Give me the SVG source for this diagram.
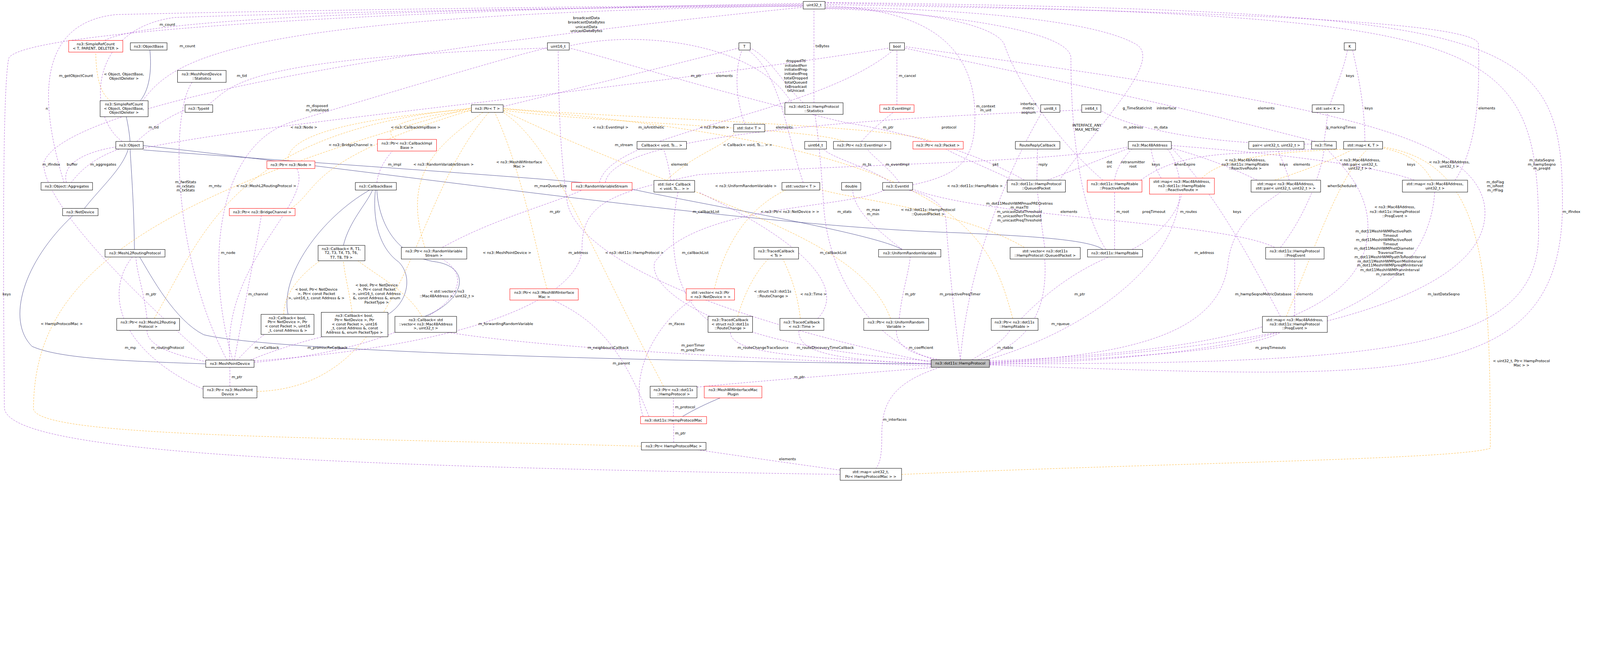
<svg xmlns="http://www.w3.org/2000/svg" width="5444" height="1656" viewBox="0 0 5444 1656">
<style>
text{font-family:"DejaVu Sans","Liberation Sans",sans-serif;font-size:12.5px;fill:#000;text-anchor:middle}
.n rect{fill:#fff;stroke:#000;stroke-width:1.3}
.r rect{fill:#fff;stroke:#f00;stroke-width:1.3}
.g rect{fill:#bfbfbf;stroke:#000;stroke-width:1.3}
path{fill:none}
.e{stroke:#9a32cd;stroke-dasharray:6,4;marker-end:url(#mp)}
.t{stroke:#ffa500;stroke-dasharray:6,4;marker-end:url(#mo)}
.i{stroke:#191970;marker-end:url(#mn)}
</style>
<defs>
<marker id="mp" viewBox="0 0 10 10" refX="9" refY="5" markerWidth="14" markerHeight="14" markerUnits="userSpaceOnUse" orient="auto"><path d="M0,0 L10,5 L0,10 z" fill="#9a32cd"/></marker>
<marker id="mo" viewBox="0 0 10 10" refX="9" refY="5" markerWidth="14" markerHeight="14" markerUnits="userSpaceOnUse" orient="auto"><path d="M0,0 L10,5 L0,10 z" fill="#ffa500"/></marker>
<marker id="mn" viewBox="0 0 10 10" refX="9" refY="5" markerWidth="14" markerHeight="14" markerUnits="userSpaceOnUse" orient="auto"><path d="M0,0 L10,5 L0,10 z" fill="#191970"/></marker>
</defs>
<rect width="5444" height="1656" fill="#fff"/>
<g id="diagram" transform="scale(0.745)">
<g id="connectors">
<path class="i" d="M482,346 C520,300 520,220 515,172"/>
<path class="i" d="M447,486 C444,450 438,420 434,401"/>
<path class="i" d="M290,716 C350,640 420,580 441,512"/>
<path class="i" d="M462,857 C460,700 452,600 447,512"/>
<path class="i" d="M707,1250 C400,1240 200,1230 110,1190 C20,1100 80,900 250,741"/>
<path class="i" d="M2000,627 C1700,600 800,540 492,515"/>
<path class="i" d="M3790,857 C3740,820 3500,810 3300,800 C2600,780 1400,600 492,500"/>
<path class="i" d="M3100,857 C3000,800 2400,700 2172,650"/>
<path class="i" d="M3200,1250 C2000,1240 900,1200 700,1150 C600,1100 520,950 480,883"/>
<path class="i" d="M1180,843 C1200,760 1260,700 1280,653"/>
<path class="i" d="M1333,1080 C1400,1040 1420,950 1370,900 C1300,850 1280,750 1290,653"/>
<path class="i" d="M1460,1087 C1600,1030 1620,920 1500,900 C1350,880 1300,750 1295,653"/>
<path class="i" d="M990,1080 C960,950 1100,750 1270,653"/>
<path class="i" d="M2345,1431 C2380,1410 2420,1390 2475,1367"/>
<path class="t" d="M380,346 C340,320 330,250 329,179"/>
<path class="t" d="M990,553 C980,450 1300,400 1620,375"/>
<path class="t" d="M1000,716 C1100,650 1050,550 1620,378"/>
<path class="t" d="M1360,479 C1300,440 1400,400 1620,380"/>
<path class="t" d="M530,1094 C700,800 800,450 1620,372"/>
<path class="t" d="M883,1345 C1400,1330 1400,700 1680,386"/>
<path class="t" d="M1460,850 C1380,600 1500,500 1660,386"/>
<path class="t" d="M1880,992 C1850,900 1800,600 1700,386"/>
<path class="t" d="M2280,1327 C2000,800 1900,500 1729,386"/>
<path class="t" d="M2900,486 C2800,440 2000,420 1729,378"/>
<path class="t" d="M3200,486 C3100,430 2000,400 1729,372"/>
<path class="t" d="M3060,1094 C2950,800 2400,700 1729,380"/>
<path class="t" d="M3480,1094 C3400,800 3300,500 1729,374"/>
<path class="t" d="M2204,1533 C1000,1500 100,1500 115,1400 C120,1000 400,700 1620,370"/>
<path class="t" d="M1210,1073 C1200,1000 1185,950 1180,896"/>
<path class="t" d="M1450,1087 C1400,1000 1300,950 1230,896"/>
<path class="t" d="M975,1080 C975,1000 1050,930 1100,896"/>
<path class="t" d="M2290,620 C2380,530 2500,500 2525,453"/>
<path class="t" d="M2455,992 C2500,800 2600,700 2700,653"/>
<path class="t" d="M3520,850 C3300,720 2900,680 2817,650"/>
<path class="t" d="M2535,1087 C2560,1000 2600,930 2640,890"/>
<path class="t" d="M2750,1094 C2740,1000 2710,930 2690,890"/>
<path class="t" d="M4130,612 C4200,540 4400,520 4640,512"/>
<path class="t" d="M4380,619 C4500,580 4600,540 4650,512"/>
<path class="t" d="M4920,619 C4880,540 4800,520 4751,508"/>
<path class="t" d="M4420,1087 C4500,900 4600,600 4700,512"/>
<path class="t" d="M3098,1630 C4000,1590 5000,1580 5121,1540 C5121,900 5100,560 4751,505"/>
<path class="e" d="M360,139 C500,60 1500,30 2760,18"/>
<path class="e" d="M490,346 C600,200 800,50 2760,20"/>
<path class="e" d="M420,486 C300,400 300,100 600,60 C1500,30 2500,22 2760,22"/>
<path class="e" d="M220,627 C150,400 100,80 400,50 C1500,25 2500,20 2760,15"/>
<path class="e" d="M720,1237 C450,1000 150,700 150,560 C200,400 1000,200 2760,25"/>
<path class="e" d="M2887,1630 C1000,1600 20,1550 15,1400 C10,800 10,300 30,200 C80,100 1500,30 2760,12"/>
<path class="e" d="M228,627 C210,560 300,520 398,505"/>
<path class="e" d="M410,512 C330,540 280,580 245,627"/>
<path class="e" d="M470,486 C520,440 580,400 636,378"/>
<path class="e" d="M715,360 C800,300 800,200 1881,165"/>
<path class="e" d="M780,1237 C600,900 580,400 660,283"/>
<path class="e" d="M800,1237 C700,900 750,500 1000,420 C1400,300 1800,180 1881,165"/>
<path class="e" d="M790,1237 C760,900 1080,700 1020,579"/>
<path class="e" d="M805,1237 C850,1000 880,850 898,741"/>
<path class="e" d="M720,1245 C600,1220 505,1190 505,1135"/>
<path class="e" d="M815,1237 C850,1200 890,1160 910,1149"/>
<path class="e" d="M860,1237 C950,1200 1050,1170 1110,1157"/>
<path class="e" d="M505,1094 C495,1000 470,940 467,883"/>
<path class="e" d="M455,883 C360,1000 400,1200 698,1337"/>
<path class="e" d="M790,1327 L790,1262"/>
<path class="e" d="M480,512 C900,420 2000,330 3057,165"/>
<path class="e" d="M1295,627 C1300,580 1330,540 1348,519"/>
<path class="e" d="M1729,366 C2000,300 2400,200 2539,165"/>
<path class="e" d="M2720,353 C2600,150 2200,100 1956,158"/>
<path class="e" d="M2797,353 L2797,31"/>
<path class="e" d="M2760,353 C2700,300 2650,200 2578,165"/>
<path class="e" d="M3200,1245 C2500,1100 2000,900 1950,700 C1920,500 1920,300 1918,172"/>
<path class="e" d="M873,1245 C1400,1200 1700,1000 1520,890"/>
<path class="e" d="M1520,850 C1700,750 1900,700 2000,653"/>
<path class="e" d="M2080,627 C2100,500 2600,420 3717,378"/>
<path class="e" d="M2060,627 C2100,450 2800,400 3070,172"/>
<path class="e" d="M2560,427 C2520,320 2530,220 2550,172"/>
<path class="e" d="M2760,627 C2700,450 2680,250 2570,172"/>
<path class="e" d="M3082,360 L3082,172"/>
<path class="e" d="M2960,486 C3000,440 3040,410 3070,386"/>
<path class="e" d="M3060,627 C3000,580 2850,540 2830,512"/>
<path class="e" d="M3090,627 C3060,580 3000,540 2980,512"/>
<path class="e" d="M3136,635 C3300,600 3350,550 3350,400 C3350,100 3100,30 2835,20"/>
<path class="e" d="M2305,620 C2300,580 2290,540 2280,512"/>
<path class="e" d="M2433,1100 C2300,1000 2300,800 2330,660"/>
<path class="e" d="M2810,1094 C2900,1000 2800,850 2400,660"/>
<path class="e" d="M3200,1250 C2800,1230 2510,1220 2510,1142"/>
<path class="e" d="M3200,1252 C2900,1235 2740,1220 2745,1135"/>
<path class="e" d="M3230,1236 C3150,1220 3080,1200 3080,1135"/>
<path class="e" d="M3090,1094 C3100,1000 3120,950 3128,883"/>
<path class="e" d="M3100,857 C3000,780 2935,720 2930,653"/>
<path class="e" d="M3210,1236 C2950,1150 2840,900 2830,700 C2820,550 2810,450 2800,393"/>
<path class="e" d="M3300,1236 C3280,1100 3260,900 3250,750 C3240,680 3150,660 3120,653"/>
<path class="e" d="M3210,1240 C2500,1200 2220,1000 2250,900 C2400,700 2900,720 3040,653"/>
<path class="e" d="M2210,1431 C2150,1250 2300,1070 2380,1031"/>
<path class="e" d="M2395,1330 C2700,1300 3000,1280 3210,1262"/>
<path class="e" d="M2314,1431 L2314,1367"/>
<path class="e" d="M2315,1520 L2315,1456"/>
<path class="e" d="M2887,1615 C2700,1590 2500,1560 2400,1546"/>
<path class="e" d="M3230,1262 C3050,1320 3030,1400 3030,1500 C3030,1560 3025,1590 3010,1609"/>
<path class="e" d="M2230,1431 C2140,1200 2050,1100 1900,1031"/>
<path class="e" d="M3200,1258 C2600,1230 1900,1200 1540,1142"/>
<path class="e" d="M873,1240 C1700,1180 2000,1000 2000,850 C2000,700 2100,660 2400,600 C3000,560 3600,560 3877,505"/>
<path class="e" d="M3480,619 C3400,580 3300,540 3250,512"/>
<path class="e" d="M3563,619 L3565,512"/>
<path class="e" d="M3600,619 C3700,580 3800,540 3877,510"/>
<path class="e" d="M3640,619 C3800,400 4000,200 3900,150 C3700,40 3000,25 2835,25"/>
<path class="e" d="M3520,619 C3400,550 3200,470 2900,420 C2400,300 2100,200 1956,165"/>
<path class="e" d="M3830,619 C3835,580 3860,540 3890,512"/>
<path class="e" d="M3920,619 C4000,560 4100,530 4300,525 C4400,520 4480,515 4520,512"/>
<path class="e" d="M3790,619 C3650,500 3500,300 3450,150 C3400,60 3000,25 2835,28"/>
<path class="e" d="M3830,857 L3830,660"/>
<path class="e" d="M3890,857 C4000,800 4050,720 4060,667"/>
<path class="e" d="M3800,857 C3700,700 3680,400 3680,200 C3680,80 3000,30 2835,30"/>
<path class="e" d="M3990,612 C3970,580 3960,540 3955,512"/>
<path class="e" d="M4320,619 C4200,560 4100,530 4025,508"/>
<path class="e" d="M4430,619 C4420,580 4400,540 4390,512"/>
<path class="e" d="M4400,1087 C4300,900 4200,700 4030,512"/>
<path class="e" d="M4449,1087 L4449,890"/>
<path class="e" d="M3400,1248 C3900,1230 4300,1200 4400,1142"/>
<path class="e" d="M3400,1244 C4000,1220 4200,1100 4220,900 C4240,750 4350,700 4400,660"/>
<path class="e" d="M3340,1236 C3400,1200 3450,1170 3470,1135"/>
<path class="e" d="M3360,1236 C3550,1180 3600,1050 3590,890"/>
<path class="e" d="M3510,1094 C3600,1000 3700,930 3810,883"/>
<path class="e" d="M3590,850 C3580,780 3570,700 3565,660"/>
<path class="e" d="M3390,1236 C3700,1150 4100,900 4050,600 C4040,560 4030,530 4010,512"/>
<path class="e" d="M4400,850 C4480,750 4540,600 4550,512"/>
<path class="e" d="M4380,850 C4200,760 3400,750 3136,650"/>
<path class="e" d="M3400,1252 C4300,1230 4900,1100 4930,660"/>
<path class="e" d="M5000,619 C5080,500 5085,300 5080,150 C5060,50 3500,30 2835,15"/>
<path class="e" d="M4860,619 C4700,560 4300,520 4025,500"/>
<path class="e" d="M4550,486 C4555,450 4560,410 4563,386"/>
<path class="e" d="M4570,360 C4590,300 4620,230 4630,172"/>
<path class="e" d="M4690,486 C4690,350 4660,230 4648,172"/>
<path class="e" d="M4507,495 C4200,500 3900,450 3783,380"/>
<path class="e" d="M4520,486 C4000,350 3500,250 3108,165"/>
<path class="e" d="M3400,1240 C4200,1210 4680,1100 4700,800 C4710,650 4600,560 4560,512"/>
<path class="e" d="M3300,1236 C3320,1000 3400,700 3580,386"/>
<path class="e" d="M3400,1246 C4500,1200 5150,1000 5100,700 C5050,450 4500,350 3108,160"/>
<path class="e" d="M3400,1250 C4800,1250 5287,1200 5287,800 C5287,100 5100,60 2835,10"/>
<path class="e" d="M3400,1254 C4800,1300 5369,1350 5369,700 C5369,100 5200,40 2835,8"/>
</g>
<g id="labels">
<text x="575" y="89">m_count</text>
<text x="644" y="163">m_count</text>
<text x="261" y="265">m_getObjectCount</text>
<text x="426" y="259">&lt; Object, ObjectBase,</text><text x="426" y="274">ObjectDeleter &gt;</text>
<text x="831" y="265">m_tid</text>
<text x="161" y="377">n</text>
<text x="528" y="442">m_tid</text>
<text x="1044" y="442">&lt; ns3::Node &gt;</text>
<text x="1090" y="368">m_disposed</text><text x="1090" y="383">m_initialized</text>
<text x="176" y="569">m_ifIndex</text>
<text x="248" y="569">buffer</text>
<text x="355" y="569">m_aggregates</text>
<text x="638" y="629">m_fwdStats</text><text x="638" y="644">m_rxStats</text><text x="638" y="658">m_txStats</text>
<text x="739" y="643">m_mtu</text>
<text x="915" y="643">&lt; ns3::MeshL2RoutingProtocol &gt;</text>
<text x="784" y="872">m_node</text>
<text x="23" y="1015">keys</text>
<text x="519" y="1015">m_ptr</text>
<text x="887" y="1015">m_channel</text>
<text x="1087" y="999">&lt; bool, Ptr&lt; NetDevice</text><text x="1087" y="1014">&gt;, Ptr&lt; const Packet</text><text x="1087" y="1028">&gt;, uint16_t, const Address &amp; &gt;</text>
<text x="212" y="1117">&lt; HwmpProtocolMac &gt;</text>
<text x="448" y="1199">m_mp</text>
<text x="576" y="1199">m_routingProtocol</text>
<text x="917" y="1199">m_rxCallback</text>
<text x="1125" y="1199">m_promiscRxCallback</text>
<text x="814" y="1299">m_ptr</text>
<text x="2015" y="66">broadcastData</text><text x="2015" y="81">broadcastDataBytes</text><text x="2015" y="96">unicastData</text><text x="2015" y="110">unicastDataBytes</text>
<text x="1428" y="442">&lt; ns3::CallbackImplBase &gt;</text>
<text x="2098" y="442">&lt; ns3::EventImpl &gt;</text>
<text x="2238" y="442">m_isAntithetic</text>
<text x="1205" y="502">&lt; ns3::BridgeChannel &gt;</text>
<text x="2144" y="502">m_stream</text>
<text x="1356" y="569">m_impl</text>
<text x="1524" y="569">&lt; ns3::RandomVariableStream &gt;</text>
<text x="1784" y="561">&lt; ns3::MeshWifiInterface</text><text x="1784" y="576">Mac &gt;</text>
<text x="1892" y="643">m_maxQueueSize</text>
<text x="1907" y="732">m_ptr</text>
<text x="1742" y="872">&lt; ns3::MeshPointDevice &gt;</text>
<text x="1987" y="872">m_address</text>
<text x="2180" y="872">&lt; ns3::dot11s::HwmpProtocol &gt;</text>
<text x="1294" y="984">&lt; bool, Ptr&lt; NetDevice</text><text x="1294" y="999">&gt;, Ptr&lt; const Packet</text><text x="1294" y="1014">&gt;, uint16_t, const Address</text><text x="1294" y="1028">&amp;, const Address &amp;, enum</text><text x="1294" y="1043">PacketType &gt;</text>
<text x="1536" y="1006">&lt; std::vector&lt; ns3</text><text x="1536" y="1021">::Mac48Address &gt;, uint32_t &gt;</text>
<text x="1738" y="1117">m_forwardingRandomVariable</text>
<text x="2090" y="1199">m_neighboursCallback</text>
<text x="2135" y="1253">m_parent</text>
<text x="2826" y="163">txBytes</text>
<text x="2735" y="214">droppedTtl</text><text x="2735" y="229">initiatedPerr</text><text x="2735" y="243">initiatedPrep</text><text x="2735" y="258">initiatedPreq</text><text x="2735" y="272">totalDropped</text><text x="2735" y="287">totalQueued</text><text x="2735" y="302">txBroadcast</text><text x="2735" y="316">txUnicast</text>
<text x="3118" y="265">m_cancel</text>
<text x="2392" y="265">m_ptr</text>
<text x="2489" y="265">elements</text>
<text x="2455" y="442">&lt; ns3::Packet &gt;</text>
<text x="2695" y="442">elements</text>
<text x="3052" y="442">m_ptr</text>
<text x="3261" y="442">protocol</text>
<text x="2569" y="502">&lt; Callback&lt; void, Ts... &gt; &gt;</text>
<text x="2335" y="569">elements</text>
<text x="2979" y="569">m_ts</text>
<text x="3084" y="569">m_eventImpl</text>
<text x="2563" y="643">&lt; ns3::UniformRandomVariable &gt;</text>
<text x="3350" y="643">&lt; ns3::dot11s::HwmpRtable &gt;</text>
<text x="2426" y="732">m_callbackList</text>
<text x="2714" y="732">&lt; ns3::Ptr&lt; ns3::NetDevice &gt; &gt;</text>
<text x="2902" y="732">m_stats</text>
<text x="3000" y="725">m_max</text><text x="3000" y="739">m_min</text>
<text x="3189" y="725">&lt; ns3::dot11s::HwmpProtocol</text><text x="3189" y="739">::QueuedPacket &gt;</text>
<text x="2389" y="872">m_callbackList</text>
<text x="2863" y="872">m_callbackList</text>
<text x="2655" y="1006">&lt; struct ns3::dot11s</text><text x="2655" y="1021">::RouteChange &gt;</text>
<text x="2795" y="1015">&lt; ns3::Time &gt;</text>
<text x="3128" y="1015">m_ptr</text>
<text x="3299" y="1015">m_proactivePreqTimer</text>
<text x="2325" y="1117">m_ifaces</text>
<text x="2381" y="1191">m_perrTimer</text><text x="2381" y="1207">m_preqTimer</text>
<text x="2622" y="1199">m_routeChangeTraceSource</text>
<text x="2836" y="1199">m_routeDiscoveryTimeCallback</text>
<text x="3165" y="1199">m_coefficient</text>
<text x="2747" y="1299">m_ptr</text>
<text x="2354" y="1403">m_protocol</text>
<text x="3075" y="1446">m_interfaces</text>
<text x="2338" y="1492">m_ptr</text>
<text x="2706" y="1581">elements</text>
<text x="3387" y="369">m_context</text><text x="3387" y="383">m_uid</text>
<text x="3534" y="361">interface</text><text x="3534" y="376">metric</text><text x="3534" y="391">seqnum</text>
<text x="3908" y="376">g_TimeStaticInit</text>
<text x="4008" y="376">inInterface</text>
<text x="4351" y="376">elements</text>
<text x="3735" y="435">INTERFACE_ANY</text><text x="3735" y="450">MAX_METRIC</text>
<text x="3894" y="442">m_address</text>
<text x="3989" y="442">m_data</text>
<text x="3421" y="569">pkt</text>
<text x="3584" y="569">reply</text>
<text x="3812" y="561">dst</text><text x="3812" y="576">src</text>
<text x="3893" y="561">retransmitter</text><text x="3893" y="576">root</text>
<text x="3972" y="569">keys</text>
<text x="4071" y="569">whenExpire</text>
<text x="4279" y="554">&lt; ns3::Mac48Address,</text><text x="4279" y="569">ns3::dot11s::HwmpRtable</text><text x="4279" y="583">::ReactiveRoute &gt;</text>
<text x="4411" y="569">keys</text>
<text x="4473" y="569">elements</text>
<text x="3503" y="703">m_dot11MeshHWMPmaxPREQretries</text><text x="3503" y="717">m_maxTtl</text><text x="3503" y="732">m_unicastDataThreshold</text><text x="3503" y="747">m_unicastPerrThreshold</text><text x="3503" y="761">m_unicastPreqThreshold</text>
<text x="3673" y="732">elements</text>
<text x="3858" y="732">m_root</text>
<text x="3965" y="732">preqTimeout</text>
<text x="4084" y="732">m_routes</text>
<text x="4251" y="732">keys</text>
<text x="4138" y="872">m_address</text>
<text x="3710" y="1015">m_ptr</text>
<text x="4341" y="1015">m_hwmpSeqnoMetricDatabase</text>
<text x="4483" y="1015">elements</text>
<text x="3644" y="1117">m_rqueue</text>
<text x="3454" y="1199">m_rtable</text>
<text x="4366" y="1199">m_preqTimeouts</text>
<text x="4639" y="265">keys</text>
<text x="4703" y="376">keys</text>
<text x="5109" y="376">elements</text>
<text x="4608" y="442">g_markingTimes</text>
<text x="4673" y="554">&lt; ns3::Mac48Address,</text><text x="4673" y="569">std::pair&lt; uint32_t,</text><text x="4673" y="583">uint32_t &gt; &gt;</text>
<text x="4849" y="569">keys</text>
<text x="4980" y="561">&lt; ns3::Mac48Address,</text><text x="4980" y="576">uint32_t &gt;</text>
<text x="5298" y="554">m_dataSeqno</text><text x="5298" y="569">m_hwmpSeqno</text><text x="5298" y="583">m_preqId</text>
<text x="5138" y="629">m_doFlag</text><text x="5138" y="643">m_isRoot</text><text x="5138" y="658">m_rfFlag</text>
<text x="4611" y="643">whenScheduled</text>
<text x="4793" y="716">&lt; ns3::Mac48Address,</text><text x="4793" y="731">ns3::dot11s::HwmpProtocol</text><text x="4793" y="747">::PreqEvent &gt;</text>
<text x="5400" y="732">m_ifIndex</text>
<text x="4754" y="799">m_dot11MeshHWMPactivePath</text><text x="4778" y="814">Timeout</text><text x="4756" y="828">m_dot11MeshHWMPactiveRoot</text><text x="4778" y="843">Timeout</text><text x="4756" y="858">m_dot11MeshHWMPnetDiameter</text><text x="4778" y="872">TraversalTime</text><text x="4777" y="887">m_dot11MeshHWMPpathToRootInterval</text><text x="4776" y="902">m_dot11MeshHWMPperrMinInterval</text><text x="4776" y="916">m_dot11MeshHWMPpreqMinInterval</text><text x="4776" y="931">m_dot11MeshHWMPrannInterval</text><text x="4777" y="946">m_randomStart</text>
<text x="4961" y="1015">m_lastDataSeqno</text>
<text x="5228" y="1244">&lt; uint32_t, Ptr&lt; HwmpProtocol</text><text x="5228" y="1259">Mac &gt; &gt;</text>
</g>
<g id="n_src_t" class="r"><rect x="236" y="139" width="186" height="40"/><text x="329" y="156">ns3::SimpleRefCount</text><text x="329" y="171">&lt; T, PARENT, DELETER &gt;</text></g>
<g id="n_objectbase" class="n"><rect x="448" y="147" width="126" height="25"/><text x="511" y="164">ns3::ObjectBase</text></g>
<g id="n_mpdstats" class="n"><rect x="610" y="242" width="167" height="41"/><text x="693" y="259">ns3::MeshPointDevice</text><text x="693" y="274">::Statistics</text></g>
<g id="n_src_o" class="n"><rect x="344" y="346" width="165" height="55"/><text x="426" y="362">ns3::SimpleRefCount</text><text x="426" y="377">&lt; Object, ObjectBase,</text><text x="426" y="391">ObjectDeleter &gt;</text></g>
<g id="n_typeid" class="n"><rect x="636" y="360" width="95" height="26"/><text x="683" y="377">ns3::TypeId</text></g>
<g id="n_object" class="n"><rect x="398" y="486" width="94" height="26"/><text x="445" y="503">ns3::Object</text></g>
<g id="n_ptrnode" class="r"><rect x="917" y="553" width="165" height="26"/><text x="1000" y="570">ns3::Ptr&lt; ns3::Node &gt;</text></g>
<g id="n_aggregates" class="n"><rect x="141" y="627" width="177" height="26"/><text x="230" y="644">ns3::Object::Aggregates</text></g>
<g id="n_netdevice" class="n"><rect x="215" y="716" width="122" height="25"/><text x="276" y="733">ns3::NetDevice</text></g>
<g id="n_ptrbridge" class="r"><rect x="788" y="716" width="226" height="25"/><text x="901" y="733">ns3::Ptr&lt; ns3::BridgeChannel &gt;</text></g>
<g id="n_meshl2rp" class="n"><rect x="361" y="857" width="206" height="26"/><text x="464" y="874">ns3::MeshL2RoutingProtocol</text></g>
<g id="n_ptrl2rp" class="n"><rect x="401" y="1094" width="216" height="41"/><text x="509" y="1111">ns3::Ptr&lt; ns3::MeshL2Routing</text><text x="509" y="1126">Protocol &gt;</text></g>
<g id="n_cbaddr" class="n"><rect x="897" y="1080" width="182" height="69"/><text x="988" y="1096">ns3::Callback&lt; bool,</text><text x="988" y="1110">Ptr&lt; NetDevice &gt;, Ptr</text><text x="988" y="1125">&lt; const Packet &gt;, uint16</text><text x="988" y="1139">_t, const Address &amp; &gt;</text></g>
<g id="n_mpd" class="n"><rect x="707" y="1237" width="166" height="25"/><text x="790" y="1254">ns3::MeshPointDevice</text></g>
<g id="n_ptrmpd" class="n"><rect x="698" y="1327" width="185" height="40"/><text x="790" y="1344">ns3::Ptr&lt; ns3::MeshPoint</text><text x="790" y="1359">Device &gt;</text></g>
<g id="n_uint16" class="n"><rect x="1881" y="147" width="75" height="25"/><text x="1918" y="164">uint16_t</text></g>
<g id="n_ptrt" class="n"><rect x="1620" y="360" width="109" height="26"/><text x="1675" y="377">ns3::Ptr&lt; T &gt;</text></g>
<g id="n_ptrcib" class="r"><rect x="1297" y="479" width="203" height="40"/><text x="1398" y="496">ns3::Ptr&lt; ns3::CallbackImpl</text><text x="1398" y="511">Base &gt;</text></g>
<g id="n_callbackbase" class="n"><rect x="1221" y="627" width="141" height="26"/><text x="1291" y="644">ns3::CallbackBase</text></g>
<g id="n_rvs" class="r"><rect x="1964" y="627" width="208" height="26"/><text x="2068" y="644">ns3::RandomVariableStream</text></g>
<g id="n_cbvoid" class="n"><rect x="2189" y="486" width="170" height="26"/><text x="2274" y="503">Callback&lt; void, Ts... &gt;</text></g>
<g id="n_cbr" class="n"><rect x="1093" y="843" width="161" height="53"/><text x="1173" y="859">ns3::Callback&lt; R, T1,</text><text x="1173" y="873">T2, T3, T4, T5, T6,</text><text x="1173" y="888">T7, T8, T9 &gt;</text></g>
<g id="n_ptrrvs" class="n"><rect x="1379" y="850" width="225" height="40"/><text x="1491" y="867">ns3::Ptr&lt; ns3::RandomVariable</text><text x="1491" y="882">Stream &gt;</text></g>
<g id="n_cbpt" class="n"><rect x="1104" y="1073" width="229" height="84"/><text x="1218" y="1089">ns3::Callback&lt; bool,</text><text x="1218" y="1103">Ptr&lt; NetDevice &gt;, Ptr</text><text x="1218" y="1118">&lt; const Packet &gt;, uint16</text><text x="1218" y="1132">_t, const Address &amp;, const</text><text x="1218" y="1147">Address &amp;, enum PacketType &gt;</text></g>
<g id="n_cbvec" class="n"><rect x="1357" y="1087" width="212" height="55"/><text x="1463" y="1103">ns3::Callback&lt; std</text><text x="1463" y="1118">::vector&lt; ns3::Mac48Address</text><text x="1463" y="1132">&gt;, uint32_t &gt;</text></g>
<g id="n_ptrmwim" class="r"><rect x="1752" y="992" width="235" height="39"/><text x="1870" y="1009">ns3::Ptr&lt; ns3::MeshWifiInterface</text><text x="1870" y="1024">Mac &gt;</text></g>
<g id="n_uint32" class="n"><rect x="2760" y="5" width="75" height="26"/><text x="2797" y="22">uint32_t</text></g>
<g id="n_t" class="n"><rect x="2539" y="147" width="39" height="25"/><text x="2558" y="164">T</text></g>
<g id="n_bool" class="n"><rect x="3057" y="147" width="51" height="25"/><text x="3082" y="164">bool</text></g>
<g id="n_hpstats" class="n"><rect x="2697" y="353" width="200" height="40"/><text x="2797" y="370">ns3::dot11s::HwmpProtocol</text><text x="2797" y="385">::Statistics</text></g>
<g id="n_eventimpl" class="r"><rect x="3023" y="360" width="118" height="26"/><text x="3082" y="377">ns3::EventImpl</text></g>
<g id="n_listt" class="n"><rect x="2521" y="427" width="107" height="26"/><text x="2574" y="444">std::list&lt; T &gt;</text></g>
<g id="n_uint64" class="n"><rect x="2765" y="486" width="75" height="26"/><text x="2802" y="503">uint64_t</text></g>
<g id="n_ptrei" class="n"><rect x="2864" y="486" width="197" height="26"/><text x="2962" y="503">ns3::Ptr&lt; ns3::EventImpl &gt;</text></g>
<g id="n_ptrpacket" class="r"><rect x="3137" y="486" width="173" height="26"/><text x="3223" y="503">ns3::Ptr&lt; ns3::Packet &gt;</text></g>
<g id="n_listcb" class="n"><rect x="2247" y="620" width="140" height="40"/><text x="2317" y="637">std::list&lt; Callback</text><text x="2317" y="652">&lt; void, Ts... &gt; &gt;</text></g>
<g id="n_vectort" class="n"><rect x="2687" y="627" width="130" height="26"/><text x="2752" y="644">std::vector&lt; T &gt;</text></g>
<g id="n_double" class="n"><rect x="2892" y="627" width="66" height="26"/><text x="2925" y="644">double</text></g>
<g id="n_eventid" class="n"><rect x="3033" y="627" width="103" height="26"/><text x="3084" y="644">ns3::EventId</text></g>
<g id="n_tcts" class="n"><rect x="2591" y="850" width="153" height="40"/><text x="2667" y="867">ns3::TracedCallback</text><text x="2667" y="882">&lt; Ts &gt;</text></g>
<g id="n_urv" class="n"><rect x="3019" y="857" width="214" height="26"/><text x="3126" y="874">ns3::UniformRandomVariable</text></g>
<g id="n_vecptrnd" class="r"><rect x="2358" y="992" width="166" height="39"/><text x="2441" y="1009">std::vector&lt; ns3::Ptr</text><text x="2441" y="1024">&lt; ns3::NetDevice &gt; &gt;</text></g>
<g id="n_tcrc" class="n"><rect x="2433" y="1087" width="153" height="55"/><text x="2509" y="1103">ns3::TracedCallback</text><text x="2509" y="1118">&lt; struct ns3::dot11s</text><text x="2509" y="1132">::RouteChange &gt;</text></g>
<g id="n_tctime" class="n"><rect x="2680" y="1094" width="151" height="41"/><text x="2755" y="1111">ns3::TracedCallback</text><text x="2755" y="1126">&lt; ns3::Time &gt;</text></g>
<g id="n_ptrurv" class="n"><rect x="2968" y="1094" width="223" height="41"/><text x="3079" y="1111">ns3::Ptr&lt; ns3::UniformRandom</text><text x="3079" y="1126">Variable &gt;</text></g>
<g id="n_hp" class="g"><rect x="3200" y="1236" width="200" height="26"/><text x="3300" y="1253">ns3::dot11s::HwmpProtocol</text></g>
<g id="n_ptrhp" class="n"><rect x="2234" y="1327" width="161" height="40"/><text x="2314" y="1344">ns3::Ptr&lt; ns3::dot11s</text><text x="2314" y="1359">::HwmpProtocol &gt;</text></g>
<g id="n_mwimp" class="r"><rect x="2420" y="1327" width="198" height="40"/><text x="2519" y="1344">ns3::MeshWifiInterfaceMac</text><text x="2519" y="1359">Plugin</text></g>
<g id="n_hpm" class="r"><rect x="2201" y="1431" width="227" height="25"/><text x="2314" y="1448">ns3::dot11s::HwmpProtocolMac</text></g>
<g id="n_ptrhpm" class="n"><rect x="2204" y="1520" width="222" height="26"/><text x="2315" y="1537">ns3::Ptr&lt; HwmpProtocolMac &gt;</text></g>
<g id="n_mapifaces" class="n"><rect x="2887" y="1609" width="211" height="41"/><text x="2992" y="1626">std::map&lt; uint32_t,</text><text x="2992" y="1641">Ptr&lt; HwmpProtocolMac &gt; &gt;</text></g>
<g id="n_uint8" class="n"><rect x="3576" y="360" width="66" height="26"/><text x="3609" y="377">uint8_t</text></g>
<g id="n_int64" class="n"><rect x="3717" y="360" width="66" height="26"/><text x="3750" y="377">int64_t</text></g>
<g id="n_rrc" class="n"><rect x="3489" y="486" width="153" height="26"/><text x="3565" y="503">RouteReplyCallback</text></g>
<g id="n_mac48" class="n"><rect x="3877" y="486" width="148" height="26"/><text x="3951" y="503">ns3::Mac48Address</text></g>
<g id="n_pair" class="n"><rect x="4291" y="486" width="190" height="26"/><text x="4386" y="503">pair&lt; uint32_t, uint32_t &gt;</text></g>
<g id="n_qp" class="n"><rect x="3461" y="619" width="200" height="41"/><text x="3561" y="636">ns3::dot11s::HwmpProtocol</text><text x="3561" y="651">::QueuedPacket</text></g>
<g id="n_pr" class="r"><rect x="3736" y="619" width="188" height="41"/><text x="3830" y="636">ns3::dot11s::HwmpRtable</text><text x="3830" y="651">::ProactiveRoute</text></g>
<g id="n_maprr" class="r"><rect x="3950" y="612" width="223" height="55"/><text x="4061" y="628">std::map&lt; ns3::Mac48Address,</text><text x="4061" y="643">ns3::dot11s::HwmpRtable</text><text x="4061" y="657">::ReactiveRoute &gt;</text></g>
<g id="n_mappair" class="n"><rect x="4299" y="619" width="239" height="41"/><text x="4418" y="636">std::map&lt; ns3::Mac48Address,</text><text x="4418" y="651">std::pair&lt; uint32_t, uint32_t &gt; &gt;</text></g>
<g id="n_vecqp" class="n"><rect x="3471" y="850" width="241" height="40"/><text x="3591" y="867">std::vector&lt; ns3::dot11s</text><text x="3591" y="882">::HwmpProtocol::QueuedPacket &gt;</text></g>
<g id="n_rtable" class="n"><rect x="3737" y="857" width="189" height="26"/><text x="3831" y="874">ns3::dot11s::HwmpRtable</text></g>
<g id="n_ptrrtable" class="n"><rect x="3406" y="1094" width="161" height="41"/><text x="3486" y="1111">ns3::Ptr&lt; ns3::dot11s</text><text x="3486" y="1126">::HwmpRtable &gt;</text></g>
<g id="n_preqevent" class="n"><rect x="4349" y="850" width="201" height="40"/><text x="4449" y="867">ns3::dot11s::HwmpProtocol</text><text x="4449" y="882">::PreqEvent</text></g>
<g id="n_mappe" class="n"><rect x="4338" y="1087" width="223" height="55"/><text x="4449" y="1103">std::map&lt; ns3::Mac48Address,</text><text x="4449" y="1118">ns3::dot11s::HwmpProtocol</text><text x="4449" y="1132">::PreqEvent &gt;</text></g>
<g id="n_k" class="n"><rect x="4619" y="147" width="39" height="25"/><text x="4638" y="164">K</text></g>
<g id="n_setk" class="n"><rect x="4509" y="360" width="109" height="26"/><text x="4563" y="377">std::set&lt; K &gt;</text></g>
<g id="n_time" class="n"><rect x="4507" y="486" width="85" height="26"/><text x="4549" y="503">ns3::Time</text></g>
<g id="n_mapkt" class="n"><rect x="4617" y="486" width="134" height="26"/><text x="4684" y="503">std::map&lt; K, T &gt;</text></g>
<g id="n_mapu32" class="n"><rect x="4819" y="619" width="224" height="41"/><text x="4931" y="636">std::map&lt; ns3::Mac48Address,</text><text x="4931" y="651">uint32_t &gt;</text></g>
</g>
</svg>
